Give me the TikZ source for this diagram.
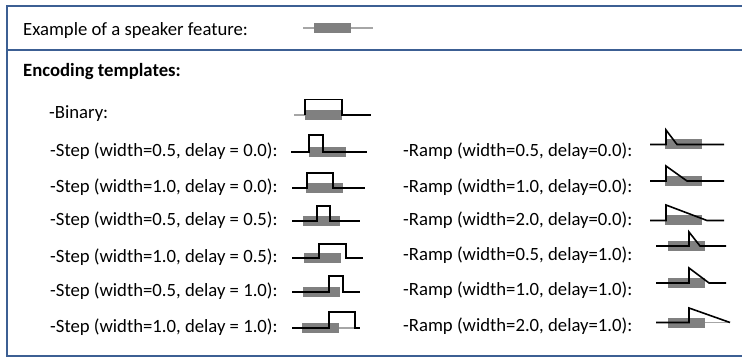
\documentclass[tikz,border=0pt]{standalone}
\usepackage{fontspec}
\setmainfont{Carlito}
\definecolor{frameblue}{HTML}{3C5F93}
\definecolor{featgray}{HTML}{808080}
\definecolor{featline}{HTML}{A6A6A6}
\tikzset{
  lbl/.style={anchor=base west, inner sep=0pt, font=\fontsize{18.7}{22}\selectfont},
  featbar/.style={fill=featgray, draw=none},
  featrule/.style={draw=featline, line width=1.4pt},
  tmpl/.style={draw=black, line width=1.6pt, line join=miter},
}
\begin{document}
\begin{tikzpicture}[x=1pt,y=-1pt]
\useasboundingbox (0,0) rectangle (742,358);
% frame
\draw[frameblue, line width=2pt] (760,6.5) -- (7,6.5) -- (7,356) -- (760,356);
\draw[frameblue, line width=2pt] (7,50.5) -- (760,50.5);
% header
\node[lbl] (ex) at (23,36) {Example of a speaker feature:};
\draw[featrule] (303,28) -- (373,28);
\fill[featbar] (314,23.3) rectangle (351,32.7);
\node[lbl, font=\fontsize{18.7}{22}\selectfont\bfseries] (enc) at (23,77) {Encoding templates:};
% binary
\node[lbl] (bin) at (49,119) {-Binary:};
\draw[featrule] (294,115) -- (342,115);
\fill[featbar] (305,110) rectangle (342,120);
\draw[tmpl] (305,115) -- (305,99.5) -- (342,99.5) -- (342,115) -- (371,115);
% steps
\node[lbl] (s1) at (50,156.5) {-Step (width=0.5, delay = 0.0):};
\fill[featbar] (309,147) rectangle (346,157);
\draw[tmpl] (291,152) -- (309,152) -- (309,135) -- (323,135) -- (323,152) -- (367,152);
\node[lbl] (s2) at (50,192.5) {-Step (width=1.0, delay = 0.0):};
\fill[featbar] (306,183) rectangle (343,193);
\draw[tmpl] (292,188) -- (307,188) -- (307,173) -- (333,173) -- (333,188) -- (365,188);
\node[lbl] (s3) at (50,225.5) {-Step (width=0.5, delay = 0.5):};
\fill[featbar] (303,216) rectangle (340,226);
\draw[tmpl] (292,221) -- (317,221) -- (317,206) -- (330,206) -- (330,221) -- (360,221);
\node[lbl] (s4) at (50,262) {-Step (width=1.0, delay = 0.5):};
\fill[featbar] (304,253) rectangle (341,263);
\draw[tmpl] (292,258) -- (319,258) -- (319,244) -- (346,244) -- (346,258) -- (363,258);
\node[lbl] (s5) at (50,296.5) {-Step (width=0.5, delay = 1.0):};
\fill[featbar] (303,287) rectangle (340,297);
\draw[tmpl] (292,292) -- (329,292) -- (329,276) -- (343,276) -- (343,292) -- (360,292);
\node[lbl] (s6) at (50,332.5) {-Step (width=1.0, delay = 1.0):};
\draw[featrule] (339,328) -- (356,328);
\fill[featbar] (302,323) rectangle (339,333);
\draw[tmpl] (292,328) -- (329,328) -- (329,312) -- (355,312) -- (355,328) -- (360,328);
% ramps
\node[lbl] (r1) at (403,156.5) {-Ramp (width=0.5, delay=0.0):};
\fill[featbar] (665,139.5) rectangle (702,149.5);
\draw[tmpl] (650,144.5) -- (666,144.5) -- (666,130) -- (677,144.5) -- (724,144.5);
\node[lbl] (r2) at (403,192.5) {-Ramp (width=1.0, delay=0.0):};
\fill[featbar] (665,176) rectangle (702,186);
\draw[tmpl] (650,181) -- (666,181) -- (666,166) -- (687,181) -- (724,181);
\node[lbl] (r3) at (403,225.5) {-Ramp (width=2.0, delay=0.0):};
\fill[featbar] (665,215.5) rectangle (702,225.5);
\draw[tmpl] (650,220.5) -- (666,220.5) -- (666,205) -- (707,220.5) -- (724,220.5);
\node[lbl] (r4) at (403,260.5) {-Ramp (width=0.5, delay=1.0):};
\fill[featbar] (668,241) rectangle (705,251);
\draw[tmpl] (656,246) -- (689,246) -- (689,232) -- (700,246) -- (726,246);
\node[lbl] (r5) at (403,295.5) {-Ramp (width=1.0, delay=1.0):};
\fill[featbar] (668,278) rectangle (705,288);
\draw[tmpl] (656,283) -- (689,283) -- (689,268) -- (709,283) -- (726,283);
\node[lbl] (r6) at (403,331.5) {-Ramp (width=2.0, delay=1.0):};
\draw[featrule] (705,322.5) -- (730,322.5);
\fill[featbar] (668,317.5) rectangle (705,327.5);
\draw[tmpl] (656,322.5) -- (689,322.5) -- (689,308) -- (730,322.5);
\end{tikzpicture}
\end{document}
